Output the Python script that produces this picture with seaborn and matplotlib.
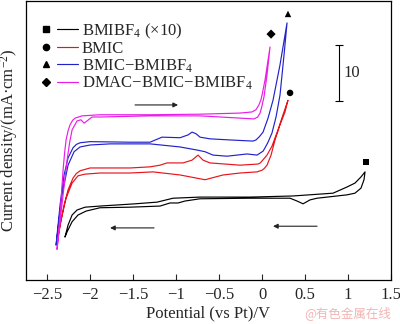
import numpy as np
import pandas as pd
import matplotlib
matplotlib.use("Agg")
import matplotlib.pyplot as plt
import seaborn as sns
from matplotlib.lines import Line2D
from matplotlib.legend_handler import HandlerTuple

# ---------------- data ----------------
labels = ["BMIBF$_4$ (×10)", "BMIC", "BMIC−BMIBF$_4$", "DMAC−BMIC−BMIBF$_4$"]
colors = ["black", "#e8141c", "#2222cc", "#e81ee8"]
markers = ["s", "o", "^", "D"]

# BMIBF4 (x10): closed CV loop (potential V vs Pt, current density mA/cm2)
bmibf4_v = [-2.291, -2.256, -2.209, -2.151, -2.058, -1.884, -1.477, -1.221, -1.035, -0.721,
            -0.140, 0.360, 0.826, 0.988, 1.081, 1.151, 1.198,
            1.186, 1.151, 1.081, 0.988, 0.640, 0.558, 0.477, 0.407, 0.326, -0.140, -0.721,
            -0.895, -0.977, -1.070, -1.186, -1.535, -1.884, -2.047, -2.140, -2.209, -2.267, -2.291]
bmibf4_j = [7.7, 9.8, 11.6, 12.5, 13.0, 13.2, 13.6, 13.9, 14.6, 14.8,
            14.8, 15.0, 15.5, 16.6, 17.3, 18.4, 19.3,
            17.9, 16.4, 15.5, 15.2, 14.6, 14.3, 13.6, 14.1, 14.6, 14.6, 14.5,
            14.1, 13.75, 13.75, 13.2, 13.0, 12.9, 12.3, 11.6, 10.4, 8.6, 7.7]

bmic_v = [-2.384, -2.349, -2.302, -2.256, -2.198, -2.160, -2.116, -2.0, -1.535, -1.302, -1.186,
          -1.105, -0.919, -0.814, -0.744, -0.686, -0.605, -0.256, -0.047, -0.020, 0.0, 0.058,
          0.116, 0.186, 0.244, 0.302,
          0.267, 0.209, 0.151, 0.105, 0.058, 0.025, 0.0, -0.058, -0.256, -0.453, -0.663, -0.953,
          -1.267, -1.535, -1.884, -2.058, -2.140, -2.209, -2.279, -2.337, -2.384]
bmic_j = [6.6, 9.8, 13.4, 16.1, 18.2, 19.0, 19.5, 20.0, 20.0, 20.2, 20.5,
          20.9, 20.9, 21.4, 22.3, 21.4, 20.9, 20.5, 20.7, 20.9, 21.25, 22.3,
          23.9, 26.8, 29.5, 32.1,
          30.0, 27.7, 25.0, 22.3, 20.5, 19.9, 19.6, 19.3, 19.1, 18.75, 17.9, 18.75,
          19.3, 19.1, 19.1, 18.9, 18.6, 17.3, 14.6, 10.7, 6.6]

mix_v = [-2.395, -2.349, -2.302, -2.256, -2.198, -2.160, -2.116, -2.0, -1.535, -1.302, -1.163,
         -0.953, -0.860, -0.814, -0.767, -0.721, -0.605, -0.372, -0.105, -0.070, -0.030, 0.012,
         0.070, 0.128, 0.209, 0.291,
         0.256, 0.209, 0.163, 0.116, 0.070, 0.035, 0.012, -0.058, -0.174, -0.291, -0.407, -0.570,
         -0.663, -0.756, -0.953, -1.302, -1.767, -2.0, -2.116, -2.186, -2.256, -2.326, -2.395]
mix_j = [6.25, 13.4, 18.75, 21.8, 23.6, 24.2, 24.5, 24.7, 24.6, 24.6, 25.5,
         25.4, 25.9, 26.4, 26.1, 25.5, 25.2, 25.0, 24.8, 25.0, 25.6, 26.4,
         28.9, 32.1, 38.4, 45.9,
         40.2, 33.0, 29.1, 26.25, 24.6, 23.6, 23.0, 22.3, 22.5, 22.3, 22.1, 22.3,
         22.9, 23.2, 23.75, 24.3, 24.3, 24.1, 23.75, 22.9, 20.5, 15.2, 6.25]

dmac_v = [-2.384, -2.349, -2.314, -2.296, -2.279, -2.256, -2.233, -2.203, -2.174, -2.093,
          -1.884, -1.302, -0.721, -0.256, -0.116, -0.070, -0.035, -0.012, 0.0, 0.035, 0.093,
          0.058, 0.023, -0.005, -0.023, -0.050, -0.093, -0.256, -0.721, -1.302, -1.884, -1.977,
          -2.035, -2.070, -2.105, -2.151, -2.209, -2.238, -2.267, -2.314, -2.384]
dmac_j = [5.5, 11.6, 19.6, 22.7, 25.0, 26.6, 27.7, 28.5, 28.9, 29.3,
          29.5, 29.5, 29.6, 29.8, 30.0, 30.4, 31.3, 32.2, 33.0, 35.7, 41.6,
          36.6, 32.7, 30.8, 29.8, 29.1, 28.75, 28.9, 29.3, 29.3, 29.1, 29.1,
          28.4, 28.0, 28.6, 28.4, 26.8, 24.5, 21.4, 15.2, 5.5]

# symbols at the anodic ends of the curves
end_v = [1.209, 0.326, 0.302, 0.105]
end_j = [21.1, 33.4, 47.5, 43.9]

# scan-direction arrows (start V, end V, J)
arrow_from = [-1.477, -1.256, 0.640]
arrow_to = [-0.977, -1.767, 0.128]
arrow_j = [31.25, 9.3, 9.6]

# scale bar: 10 mA/cm2
bar_v, bar_j, bar_len = 0.895, 37.0, 10
xticks = [-2.5, -2.0, -1.5, -1.0, -0.5, 0, 0.5, 1.0, 1.5]

# ---------------- build table ----------------
frames = []
for lab, v, j in zip(labels, [bmibf4_v, bmic_v, mix_v, dmac_v], [bmibf4_j, bmic_j, mix_j, dmac_j]):
    frames.append(pd.DataFrame({"V": v, "J": j, "sample": lab}))
df = pd.concat(frames, ignore_index=True)

# ---------------- style ----------------
sns.set_style("ticks")
plt.rcParams["font.family"] = ["Liberation Serif", "DejaVu Serif"]
plt.rcParams["mathtext.fontset"] = "custom"
plt.rcParams["mathtext.rm"] = "Liberation Serif"
plt.rcParams["mathtext.it"] = "Liberation Serif:italic"
plt.rcParams["mathtext.bf"] = "Liberation Serif:bold"
plt.rcParams["axes.unicode_minus"] = True

fig = plt.figure(figsize=(4.0, 3.24), dpi=100)
ax = fig.add_axes([0.065, 0.1358, 0.9125, 0.861])

sns.lineplot(data=df, x="V", y="J", hue="sample", hue_order=labels,
             palette=dict(zip(labels, colors)), estimator=None, sort=False,
             linewidth=0.85, legend=False, ax=ax)

sns.scatterplot(x=end_v, y=end_j, style=labels, style_order=labels,
                markers=dict(zip(labels, markers)), color="black", s=22,
                edgecolor="black", linewidth=0, legend=False, ax=ax)

for x0, x1, yj in zip(arrow_from, arrow_to, arrow_j):
    ax.annotate("", xy=(x1, yj), xytext=(x0, yj),
                arrowprops=dict(arrowstyle="-|>", color="#222222", lw=0.8,
                                mutation_scale=7, shrinkA=0, shrinkB=0))

ax.errorbar([bar_v], [bar_j], yerr=[bar_len / 2], color="black", lw=0.8,
            capsize=3, capthick=0.8, fmt="none")
ax.text(bar_v + 0.055, bar_j, "10", fontsize=12, va="center", ha="left")

ax.set_xlim(-2.745, 1.5)
ax.set_ylim(0, 49.8)
ax.set_xticks(xticks)
ax.set_xticklabels([f"{t:g}".replace("-", "−") if t != 0 else "0" for t in xticks])
ax.set_yticks([])
ax.tick_params(axis="x", direction="in", length=4, width=0.8, labelsize=12, pad=5)
for s in ax.spines.values():
    s.set_visible(True)
    s.set_linewidth(0.9)
    s.set_color("black")

ax.set_xlabel("Potential (vs Pt)/V", fontsize=12, labelpad=2)
ax.set_ylabel("Current density/(mA·cm$^{-2}$)", fontsize=12, labelpad=4)

handles = [(Line2D([], [], ls="none", marker=m, color="black", markersize=4.5 if m != "D" else 4.2),
            Line2D([], [], color=c, lw=0.85)) for m, c in zip(markers, colors)]
ax.legend(handles, labels, handler_map={tuple: HandlerTuple(ndivide=None, pad=0)},
          loc="upper left", bbox_to_anchor=(0.025, 0.927), frameon=False,
          handlelength=2.6, handletextpad=0.2, labelspacing=0.02, borderpad=0,
          borderaxespad=0, fontsize=12)

fig.text(0.76, 0.033, "@有色金属在线", fontsize=9, color="#f2b4b4",
         family=["Noto Sans CJK SC", "DejaVu Sans"], ha="left", va="center")

fig.savefig("out.png", dpi=100)
